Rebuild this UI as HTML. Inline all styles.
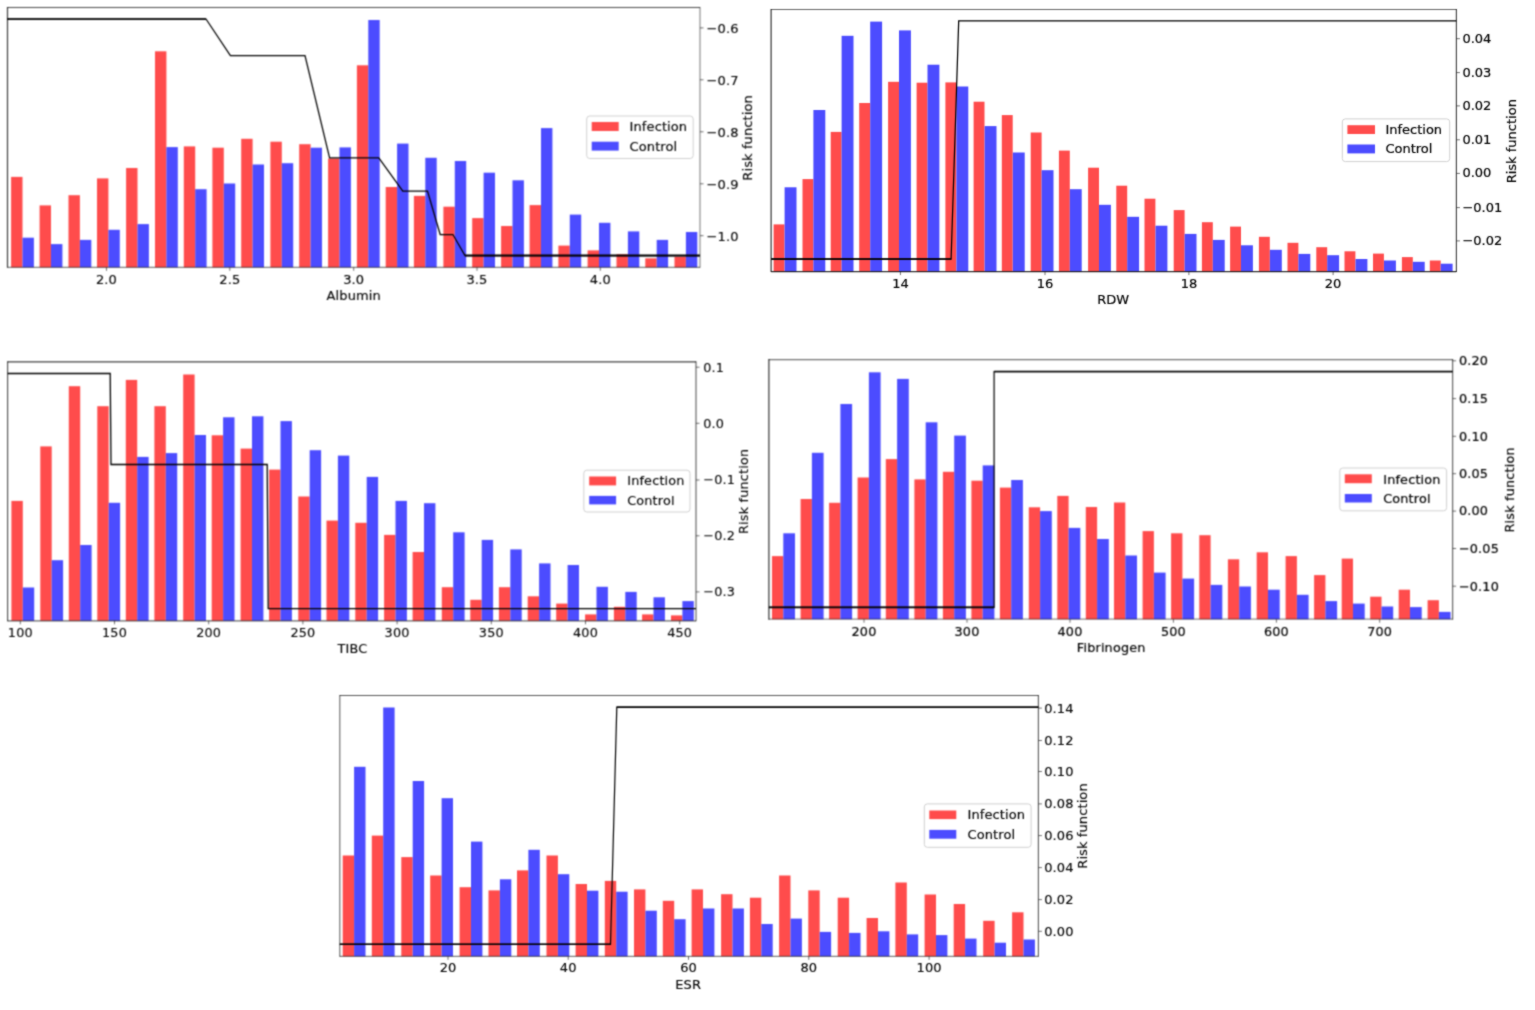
<!DOCTYPE html>
<html lang="en">
<head>
<meta charset="utf-8">
<title>Risk functions</title>
<style>
html,body{margin:0;padding:0;background:#fff;}
body{width:1535px;height:1010px;overflow:hidden;}
svg{display:block;}
text{font-family:"DejaVu Sans","Liberation Sans",sans-serif;font-size:13px;fill:#000;stroke:#000;stroke-width:0.2px;dominant-baseline:central;}
.c1 text{font-size:13px;letter-spacing:0.1px;stroke-width:0.15px;}
.c2 text{font-size:13px;letter-spacing:0px;stroke-width:0.2px;}
.c3 text{font-size:12.8px;letter-spacing:0.18px;stroke-width:0.12px;}
.c4 text{font-size:12.8px;letter-spacing:0.18px;stroke-width:0.2px;}
.c5 text{font-size:13px;letter-spacing:0.1px;stroke-width:0.15px;}
text.m{text-anchor:middle;}
.frame line{stroke:#000;stroke-width:1.2;}
.risk{fill:none;stroke:#000;stroke-linejoin:miter;}
.tick line{stroke:#111;stroke-width:1;stroke-opacity:.6;}
.leg{fill:#fff;fill-opacity:.8;stroke:#d0d0d0;stroke-width:1;}
</style>
</head>
<body>
<svg width="1535" height="1010" viewBox="0 0 1535 1010">
<defs>
<filter id="soft1" x="1.5" y="1.5" width="768.5" height="305.8" filterUnits="userSpaceOnUse" color-interpolation-filters="sRGB"><feFlood flood-color="#fff"/><feComposite in="SourceGraphic" operator="over" result="flat"/><feConvolveMatrix in="flat" order="3" kernelMatrix="1 2 1 2 6 2 1 2 1" divisor="18" edgeMode="duplicate" preserveAlpha="true"/></filter>
<filter id="soft2" x="765.1" y="3.5" width="761.3" height="308.1" filterUnits="userSpaceOnUse" color-interpolation-filters="sRGB"><feFlood flood-color="#fff"/><feComposite in="SourceGraphic" operator="over" result="flat"/><feConvolveMatrix in="flat" order="3" kernelMatrix="1 2 1 2 14 2 1 2 1" divisor="26" edgeMode="duplicate" preserveAlpha="true"/></filter>
<filter id="soft3" x="1.6" y="355.8" width="764.4" height="305" filterUnits="userSpaceOnUse" color-interpolation-filters="sRGB"><feFlood flood-color="#fff"/><feComposite in="SourceGraphic" operator="over" result="flat"/><feConvolveMatrix in="flat" order="3" kernelMatrix="1 2 1 2 6 2 1 2 1" divisor="18" edgeMode="duplicate" preserveAlpha="true"/></filter>
<filter id="soft4" x="762.9" y="353.6" width="759.7" height="305.6" filterUnits="userSpaceOnUse" color-interpolation-filters="sRGB"><feFlood flood-color="#fff"/><feComposite in="SourceGraphic" operator="over" result="flat"/><feConvolveMatrix in="flat" order="3" kernelMatrix="1 2 1 2 6 2 1 2 1" divisor="18" edgeMode="duplicate" preserveAlpha="true"/></filter>
<filter id="soft5" x="333.8" y="689.5" width="774.6" height="306.8" filterUnits="userSpaceOnUse" color-interpolation-filters="sRGB"><feFlood flood-color="#fff"/><feComposite in="SourceGraphic" operator="over" result="flat"/><feConvolveMatrix in="flat" order="3" kernelMatrix="1 2 1 2 8 2 1 2 1" divisor="20" edgeMode="duplicate" preserveAlpha="true"/></filter>
</defs>
<rect width="1535" height="1010" fill="#fff"/>
<g class="chart c1" filter="url(#soft1)">
<g fill="#ff4c4c"><rect x="11.1" y="176.9" width="11.4" height="90.4"/><rect x="39.6" y="205.4" width="11.4" height="61.9"/><rect x="68.5" y="195.2" width="11.4" height="72.1"/><rect x="97" y="178.4" width="11.4" height="88.9"/><rect x="126.1" y="168" width="11.4" height="99.3"/><rect x="155" y="51.3" width="11.4" height="216"/><rect x="183.8" y="146.4" width="11.4" height="120.9"/><rect x="212.4" y="147.7" width="11.4" height="119.6"/><rect x="241.2" y="138.8" width="11.4" height="128.5"/><rect x="270.4" y="141.7" width="11.4" height="125.6"/><rect x="299.2" y="144.2" width="11.4" height="123.1"/><rect x="328.1" y="158.5" width="11.4" height="108.8"/><rect x="356.9" y="65.3" width="11.4" height="202"/><rect x="385.7" y="187" width="11.4" height="80.3"/><rect x="413.9" y="195.9" width="11.4" height="71.4"/><rect x="443.4" y="206.7" width="11.4" height="60.6"/><rect x="472.2" y="218.1" width="11.4" height="49.2"/><rect x="501.1" y="226" width="11.4" height="41.3"/><rect x="529.6" y="205.1" width="11.4" height="62.2"/><rect x="558.4" y="245.6" width="11.4" height="21.7"/><rect x="587.6" y="250.4" width="11.4" height="16.9"/><rect x="616.5" y="254.2" width="11.4" height="13.1"/><rect x="645.3" y="258.3" width="11.4" height="9"/><rect x="674.5" y="256.7" width="11.4" height="10.6"/></g>
<g fill="#4c4cff"><rect x="22.5" y="237.7" width="11.4" height="29.6"/><rect x="51" y="244.1" width="11.4" height="23.2"/><rect x="79.9" y="239.9" width="11.4" height="27.4"/><rect x="108.4" y="229.8" width="11.4" height="37.5"/><rect x="137.5" y="224.1" width="11.4" height="43.2"/><rect x="166.4" y="147.1" width="11.4" height="120.2"/><rect x="195.2" y="189.2" width="11.4" height="78.1"/><rect x="223.8" y="183.5" width="11.4" height="83.8"/><rect x="252.6" y="164.5" width="11.4" height="102.8"/><rect x="281.8" y="163.2" width="11.4" height="104.1"/><rect x="310.6" y="147.7" width="11.4" height="119.6"/><rect x="339.5" y="147.4" width="11.4" height="119.9"/><rect x="368.3" y="20" width="11.4" height="247.3"/><rect x="397.1" y="143.6" width="11.4" height="123.7"/><rect x="425.3" y="157.8" width="11.4" height="109.5"/><rect x="454.8" y="161" width="11.4" height="106.3"/><rect x="483.6" y="172.7" width="11.4" height="94.6"/><rect x="512.5" y="180.3" width="11.4" height="87"/><rect x="541" y="128.1" width="11.4" height="139.2"/><rect x="569.8" y="214.6" width="11.4" height="52.7"/><rect x="599" y="222.8" width="11.4" height="44.5"/><rect x="627.9" y="231.4" width="11.4" height="35.9"/><rect x="656.7" y="239.9" width="11.4" height="27.4"/><rect x="685.9" y="232" width="11.4" height="35.3"/></g>
<polyline class="risk" stroke-width="1.25" points="7,19 206,19 230.4,55.5 305,55.5 329.6,157.8 378.8,157.8 402.8,191.1 427.5,191.1 440.2,234.5 452.9,234.5 465,255.5 700,255.5"/>
<line class="risk" stroke-width="1.5" x1="7" y1="19" x2="206" y2="19"/>
<line class="risk" stroke-width="1.9" x1="465" y1="255.5" x2="700" y2="255.5"/>
<g class="frame"><line x1="7.5" y1="7" x2="7.5" y2="267.8" stroke-opacity="0.75"/><line x1="7.5" y1="7.5" x2="700" y2="7.5" stroke-opacity="0.7"/><line x1="700" y1="7" x2="700" y2="267.8" stroke-opacity="0.45"/><line x1="7.5" y1="267.3" x2="700" y2="267.3" stroke-opacity="0.5"/></g>
<g class="tick"><line x1="700" y1="27.9" x2="703.5" y2="27.9"/><line x1="700" y1="79.8" x2="703.5" y2="79.8"/><line x1="700" y1="131.8" x2="703.5" y2="131.8"/><line x1="700" y1="183.8" x2="703.5" y2="183.8"/><line x1="700" y1="235.7" x2="703.5" y2="235.7"/><line x1="106.5" y1="267.3" x2="106.5" y2="270.8"/><line x1="229.8" y1="267.3" x2="229.8" y2="270.8"/><line x1="353.7" y1="267.3" x2="353.7" y2="270.8"/><line x1="477" y1="267.3" x2="477" y2="270.8"/><line x1="600.3" y1="267.3" x2="600.3" y2="270.8"/></g>
<text class="m" x="106.5" y="279.6">2.0</text>
<text class="m" x="229.8" y="279.6">2.5</text>
<text class="m" x="353.7" y="279.6">3.0</text>
<text class="m" x="477" y="279.6">3.5</text>
<text class="m" x="600.3" y="279.6">4.0</text>
<text x="706.6" y="28.9">−0.6</text>
<text x="706.6" y="80.8">−0.7</text>
<text x="706.6" y="132.8">−0.8</text>
<text x="706.6" y="184.8">−0.9</text>
<text x="706.6" y="236.7">−1.0</text>
<text class="m" x="353.7" y="295.8">Albumin</text>
<text class="m" transform="translate(747 137.9) rotate(-90)">Risk function</text>
<rect class="leg" x="586.7" y="116" width="106.5" height="42.5" rx="3"/>
<rect fill="#ff4c4c" x="591.7" y="122" width="27" height="9"/>
<rect fill="#4c4cff" x="591.7" y="141.7" width="27" height="8.9"/>
<text x="629.6" y="126.8">Infection</text>
<text x="629.6" y="146.4">Control</text>
</g>
<g class="chart c2" filter="url(#soft2)">
<g fill="#ff4c4c"><rect x="773.6" y="224.4" width="10.9" height="47.2"/><rect x="802.5" y="179.1" width="10.9" height="92.5"/><rect x="830.7" y="131.9" width="10.9" height="139.7"/><rect x="859.2" y="103" width="10.9" height="168.6"/><rect x="888.1" y="81.8" width="10.9" height="189.8"/><rect x="916.6" y="82.7" width="10.9" height="188.9"/><rect x="945.4" y="82.4" width="10.9" height="189.2"/><rect x="973.6" y="101.7" width="10.9" height="169.9"/><rect x="1001.8" y="115.1" width="10.9" height="156.5"/><rect x="1030.7" y="132.5" width="10.9" height="139.1"/><rect x="1058.9" y="150.6" width="10.9" height="121"/><rect x="1088.1" y="167.7" width="10.9" height="103.9"/><rect x="1116.3" y="185.7" width="10.9" height="85.9"/><rect x="1144.5" y="198.7" width="10.9" height="72.9"/><rect x="1173.7" y="210.1" width="10.9" height="61.5"/><rect x="1201.9" y="222.2" width="10.9" height="49.4"/><rect x="1230.1" y="226.6" width="10.9" height="45"/><rect x="1258.9" y="236.8" width="10.9" height="34.8"/><rect x="1287.5" y="242.8" width="10.9" height="28.8"/><rect x="1316.3" y="247.2" width="10.9" height="24.4"/><rect x="1344.5" y="251.3" width="10.9" height="20.3"/><rect x="1373" y="253.6" width="10.9" height="18"/><rect x="1401.9" y="257.1" width="10.9" height="14.5"/><rect x="1429.8" y="260.5" width="10.9" height="11.1"/></g>
<g fill="#4c4cff"><rect x="784.6" y="187.3" width="11.9" height="84.3"/><rect x="813.4" y="110" width="11.9" height="161.6"/><rect x="841.6" y="35.8" width="11.9" height="235.8"/><rect x="870.2" y="21.6" width="11.9" height="250"/><rect x="899" y="30.4" width="11.9" height="241.2"/><rect x="927.5" y="64.7" width="11.9" height="206.9"/><rect x="956.4" y="86.5" width="11.9" height="185.1"/><rect x="984.6" y="126.1" width="11.9" height="145.5"/><rect x="1012.8" y="152.5" width="11.9" height="119.1"/><rect x="1041.6" y="170.2" width="11.9" height="101.4"/><rect x="1069.8" y="189.2" width="11.9" height="82.4"/><rect x="1099" y="204.8" width="11.9" height="66.8"/><rect x="1127.2" y="216.8" width="11.9" height="54.8"/><rect x="1155.5" y="225.7" width="11.9" height="45.9"/><rect x="1184.6" y="233.9" width="11.9" height="37.7"/><rect x="1212.8" y="239.9" width="11.9" height="31.7"/><rect x="1241" y="245.3" width="11.9" height="26.3"/><rect x="1269.9" y="249.8" width="11.9" height="21.8"/><rect x="1298.4" y="253.9" width="11.9" height="17.7"/><rect x="1327.2" y="255.2" width="11.9" height="16.4"/><rect x="1355.5" y="259" width="11.9" height="12.6"/><rect x="1384" y="260.5" width="11.9" height="11.1"/><rect x="1412.8" y="261.8" width="11.9" height="9.8"/><rect x="1440.7" y="263.7" width="11.9" height="7.9"/></g>
<polyline class="risk" stroke-width="1.25" points="771.1,259 951.1,259 958.7,20.9 1456.4,20.9"/>
<line class="risk" stroke-width="1.45" x1="771.1" y1="259" x2="951.1" y2="259"/>
<g class="frame"><line x1="771.1" y1="9" x2="771.1" y2="272.1" stroke-opacity="0.8"/><line x1="771.1" y1="9.5" x2="1456.4" y2="9.5" stroke-opacity="0.6"/><line x1="1456.4" y1="9" x2="1456.4" y2="272.1" stroke-opacity="0.7"/><line x1="771.1" y1="271.6" x2="1456.4" y2="271.6" stroke-opacity="0.8"/></g>
<g class="tick"><line x1="1456.4" y1="38.7" x2="1459.9" y2="38.7"/><line x1="1456.4" y1="72.6" x2="1459.9" y2="72.6"/><line x1="1456.4" y1="105.9" x2="1459.9" y2="105.9"/><line x1="1456.4" y1="139.8" x2="1459.9" y2="139.8"/><line x1="1456.4" y1="173.4" x2="1459.9" y2="173.4"/><line x1="1456.4" y1="207.6" x2="1459.9" y2="207.6"/><line x1="1456.4" y1="240.9" x2="1459.9" y2="240.9"/><line x1="900.4" y1="271.6" x2="900.4" y2="275.1"/><line x1="1045" y1="271.6" x2="1045" y2="275.1"/><line x1="1188.9" y1="271.6" x2="1188.9" y2="275.1"/><line x1="1333.1" y1="271.6" x2="1333.1" y2="275.1"/></g>
<text class="m" x="900.4" y="283">14</text>
<text class="m" x="1045" y="283">16</text>
<text class="m" x="1188.9" y="283">18</text>
<text class="m" x="1333.1" y="283">20</text>
<text x="1462.4" y="38.2">0.04</text>
<text x="1462.4" y="72.1">0.03</text>
<text x="1462.4" y="105.4">0.02</text>
<text x="1462.4" y="139.3">0.01</text>
<text x="1462.4" y="172.9">0.00</text>
<text x="1462.4" y="207.1">−0.01</text>
<text x="1462.4" y="240.4">−0.02</text>
<text class="m" x="1113.1" y="299.5">RDW</text>
<text class="m" transform="translate(1511.2 141.2) rotate(-90)">Risk function</text>
<rect class="leg" x="1342.3" y="118.9" width="107.4" height="42.7" rx="3"/>
<rect fill="#ff4c4c" x="1347.4" y="125.2" width="27.6" height="8.8"/>
<rect fill="#4c4cff" x="1347.4" y="144.5" width="27.6" height="8.9"/>
<text x="1385.4" y="129.3">Infection</text>
<text x="1385.4" y="148.3">Control</text>
</g>
<g class="chart c3" filter="url(#soft3)">
<g fill="#ff4c4c"><rect x="11.4" y="500.9" width="11.4" height="119.9"/><rect x="40.3" y="446.4" width="11.4" height="174.4"/><rect x="68.8" y="386.2" width="11.4" height="234.6"/><rect x="97.3" y="406.2" width="11.4" height="214.6"/><rect x="125.8" y="379.9" width="11.4" height="240.9"/><rect x="154.4" y="406.2" width="11.4" height="214.6"/><rect x="183.2" y="374.5" width="11.4" height="246.3"/><rect x="211.7" y="435.3" width="11.4" height="185.5"/><rect x="240.6" y="448.6" width="11.4" height="172.2"/><rect x="269.1" y="469.6" width="11.4" height="151.2"/><rect x="298.3" y="496.5" width="11.4" height="124.3"/><rect x="326.5" y="520.6" width="11.4" height="100.2"/><rect x="355.3" y="522.8" width="11.4" height="98"/><rect x="384.1" y="534.9" width="11.4" height="85.9"/><rect x="412.6" y="552" width="11.4" height="68.8"/><rect x="441.8" y="587.2" width="11.4" height="33.6"/><rect x="470.3" y="599.8" width="11.4" height="21"/><rect x="498.9" y="587.2" width="11.4" height="33.6"/><rect x="527.7" y="596.3" width="11.4" height="24.5"/><rect x="556.2" y="603.6" width="11.4" height="17.2"/><rect x="585.1" y="614.4" width="11.4" height="6.4"/><rect x="613.9" y="606.8" width="11.4" height="14"/><rect x="642.1" y="614.4" width="11.4" height="6.4"/><rect x="671" y="615.4" width="11.4" height="5.4"/></g>
<g fill="#4c4cff"><rect x="22.8" y="587.5" width="11.4" height="33.3"/><rect x="51.7" y="560.2" width="11.4" height="60.6"/><rect x="80.2" y="545" width="11.4" height="75.8"/><rect x="108.7" y="502.8" width="11.4" height="118"/><rect x="137.2" y="456.9" width="11.4" height="163.9"/><rect x="165.8" y="453.1" width="11.4" height="167.7"/><rect x="194.6" y="435" width="11.4" height="185.8"/><rect x="223.1" y="417.3" width="11.4" height="203.5"/><rect x="252" y="416.3" width="11.4" height="204.5"/><rect x="280.5" y="421.1" width="11.4" height="199.7"/><rect x="309.7" y="450.2" width="11.4" height="170.6"/><rect x="337.9" y="455.6" width="11.4" height="165.2"/><rect x="366.7" y="476.9" width="11.4" height="143.9"/><rect x="395.5" y="500.9" width="11.4" height="119.9"/><rect x="424" y="503.2" width="11.4" height="117.6"/><rect x="453.2" y="532.3" width="11.4" height="88.5"/><rect x="481.7" y="539.9" width="11.4" height="80.9"/><rect x="510.3" y="549.4" width="11.4" height="71.4"/><rect x="539.1" y="563.4" width="11.4" height="57.4"/><rect x="567.6" y="565" width="11.4" height="55.8"/><rect x="596.5" y="586.8" width="11.4" height="34"/><rect x="625.3" y="591.9" width="11.4" height="28.9"/><rect x="653.5" y="597.3" width="11.4" height="23.5"/><rect x="682.4" y="601.1" width="11.4" height="19.7"/></g>
<polyline class="risk" stroke-width="1.3" points="7.6,373.5 110.2,373.5 111,464.5 267.2,464.5 268.2,608.7 696,608.7"/>
<g class="frame"><line x1="7.6" y1="361.3" x2="7.6" y2="621.3" stroke-opacity="0.65"/><line x1="7.6" y1="361.8" x2="696" y2="361.8" stroke-opacity="0.75"/><line x1="696" y1="361.3" x2="696" y2="621.3" stroke-opacity="0.6"/><line x1="7.6" y1="620.8" x2="696" y2="620.8" stroke-opacity="0.6"/></g>
<g class="tick"><line x1="696" y1="367.2" x2="699.5" y2="367.2"/><line x1="696" y1="423.3" x2="699.5" y2="423.3"/><line x1="696" y1="480" x2="699.5" y2="480"/><line x1="696" y1="535.8" x2="699.5" y2="535.8"/><line x1="696" y1="591.9" x2="699.5" y2="591.9"/><line x1="20.3" y1="620.8" x2="20.3" y2="624.3"/><line x1="114.5" y1="620.8" x2="114.5" y2="624.3"/><line x1="208.7" y1="620.8" x2="208.7" y2="624.3"/><line x1="302.9" y1="620.8" x2="302.9" y2="624.3"/><line x1="397.1" y1="620.8" x2="397.1" y2="624.3"/><line x1="491.3" y1="620.8" x2="491.3" y2="624.3"/><line x1="585.5" y1="620.8" x2="585.5" y2="624.3"/><line x1="679.7" y1="620.8" x2="679.7" y2="624.3"/></g>
<text class="m" x="20.3" y="632.8">100</text>
<text class="m" x="114.5" y="632.8">150</text>
<text class="m" x="208.7" y="632.8">200</text>
<text class="m" x="302.9" y="632.8">250</text>
<text class="m" x="397.1" y="632.8">300</text>
<text class="m" x="491.3" y="632.8">350</text>
<text class="m" x="585.5" y="632.8">400</text>
<text class="m" x="679.7" y="632.8">450</text>
<text x="703.3" y="367">0.1</text>
<text x="703.3" y="423.1">0.0</text>
<text x="703.3" y="479.8">−0.1</text>
<text x="703.3" y="535.6">−0.2</text>
<text x="703.3" y="591.7">−0.3</text>
<text class="m" x="352.5" y="648.3">TIBC</text>
<text class="m" transform="translate(743.9 491.4) rotate(-90)">Risk function</text>
<rect class="leg" x="583.8" y="470.2" width="106.2" height="41.8" rx="3"/>
<rect fill="#ff4c4c" x="589.2" y="476.5" width="26.9" height="8.9"/>
<rect fill="#4c4cff" x="589.2" y="495.9" width="26.9" height="8.5"/>
<text x="627.2" y="480.7">Infection</text>
<text x="627.2" y="500.3">Control</text>
</g>
<g class="chart c4" filter="url(#soft4)">
<g fill="#ff4c4c"><rect x="772" y="556.1" width="11.3" height="63.1"/><rect x="800.6" y="499" width="11.3" height="120.2"/><rect x="829.1" y="502.8" width="11.3" height="116.4"/><rect x="857.6" y="477.5" width="11.3" height="141.7"/><rect x="885.8" y="459.1" width="11.3" height="160.1"/><rect x="914.4" y="479.4" width="11.3" height="139.8"/><rect x="942.9" y="471.8" width="11.3" height="147.4"/><rect x="971.4" y="480.7" width="11.3" height="138.5"/><rect x="999.9" y="487.6" width="11.3" height="131.6"/><rect x="1028.8" y="507.3" width="11.3" height="111.9"/><rect x="1057.3" y="495.9" width="11.3" height="123.3"/><rect x="1085.8" y="507" width="11.3" height="112.2"/><rect x="1114" y="502.5" width="11.3" height="116.7"/><rect x="1142.6" y="531.1" width="11.3" height="88.1"/><rect x="1171.1" y="533.3" width="11.3" height="85.9"/><rect x="1199.3" y="535.2" width="11.3" height="84"/><rect x="1227.9" y="559.3" width="11.3" height="59.9"/><rect x="1256.7" y="552.3" width="11.3" height="66.9"/><rect x="1285.6" y="556.1" width="11.3" height="63.1"/><rect x="1314.1" y="575.1" width="11.3" height="44.1"/><rect x="1341.7" y="558.6" width="11.3" height="60.6"/><rect x="1370.2" y="596.7" width="11.3" height="22.5"/><rect x="1398.7" y="589.7" width="11.3" height="29.5"/><rect x="1427.6" y="600.2" width="11.3" height="19"/></g>
<g fill="#4c4cff"><rect x="783.3" y="533.3" width="11.7" height="85.9"/><rect x="811.9" y="452.8" width="11.7" height="166.4"/><rect x="840.4" y="404" width="11.7" height="215.2"/><rect x="868.9" y="372.3" width="11.7" height="246.9"/><rect x="897.1" y="378.9" width="11.7" height="240.3"/><rect x="925.7" y="422.3" width="11.7" height="196.9"/><rect x="954.2" y="435.6" width="11.7" height="183.6"/><rect x="982.7" y="465.4" width="11.7" height="153.8"/><rect x="1011.2" y="480" width="11.7" height="139.2"/><rect x="1040.1" y="511.1" width="11.7" height="108.1"/><rect x="1068.6" y="527.9" width="11.7" height="91.3"/><rect x="1097.1" y="539" width="11.7" height="80.2"/><rect x="1125.3" y="555.5" width="11.7" height="63.7"/><rect x="1153.9" y="572.6" width="11.7" height="46.6"/><rect x="1182.4" y="578.6" width="11.7" height="40.6"/><rect x="1210.6" y="584.9" width="11.7" height="34.3"/><rect x="1239.2" y="586.5" width="11.7" height="32.7"/><rect x="1268" y="589.7" width="11.7" height="29.5"/><rect x="1296.9" y="594.8" width="11.7" height="24.4"/><rect x="1325.4" y="601.1" width="11.7" height="18.1"/><rect x="1353" y="603.6" width="11.7" height="15.6"/><rect x="1381.5" y="606.5" width="11.7" height="12.7"/><rect x="1410" y="607.1" width="11.7" height="12.1"/><rect x="1438.9" y="611.9" width="11.7" height="7.3"/></g>
<polyline class="risk" stroke-width="1.2" points="768.9,607.4 994.1,607.4 994.1,371.6 1452.6,371.6"/>
<line class="risk" stroke-width="1.7" x1="768.9" y1="607.4" x2="994.1" y2="607.4"/>
<line class="risk" stroke-width="1.5" x1="994.1" y1="371.6" x2="1452.6" y2="371.6"/>
<g class="frame"><line x1="768.9" y1="359.1" x2="768.9" y2="619.7" stroke-opacity="0.8"/><line x1="768.9" y1="359.6" x2="1452.6" y2="359.6" stroke-opacity="0.55"/><line x1="1452.6" y1="359.1" x2="1452.6" y2="619.7" stroke-opacity="0.6"/><line x1="768.9" y1="619.2" x2="1452.6" y2="619.2" stroke-opacity="0.45"/></g>
<g class="tick"><line x1="1452.6" y1="360.8" x2="1456.1" y2="360.8"/><line x1="1452.6" y1="398.6" x2="1456.1" y2="398.6"/><line x1="1452.6" y1="436.3" x2="1456.1" y2="436.3"/><line x1="1452.6" y1="473.7" x2="1456.1" y2="473.7"/><line x1="1452.6" y1="511.1" x2="1456.1" y2="511.1"/><line x1="1452.6" y1="548.5" x2="1456.1" y2="548.5"/><line x1="1452.6" y1="586.2" x2="1456.1" y2="586.2"/><line x1="864" y1="619.2" x2="864" y2="622.7"/><line x1="967" y1="619.2" x2="967" y2="622.7"/><line x1="1070" y1="619.2" x2="1070" y2="622.7"/><line x1="1173.4" y1="619.2" x2="1173.4" y2="622.7"/><line x1="1276.4" y1="619.2" x2="1276.4" y2="622.7"/><line x1="1379.7" y1="619.2" x2="1379.7" y2="622.7"/></g>
<text class="m" x="864" y="631.8">200</text>
<text class="m" x="967" y="631.8">300</text>
<text class="m" x="1070" y="631.8">400</text>
<text class="m" x="1173.4" y="631.8">500</text>
<text class="m" x="1276.4" y="631.8">600</text>
<text class="m" x="1379.7" y="631.8">700</text>
<text x="1458.9" y="360.6">0.20</text>
<text x="1458.9" y="398.4">0.15</text>
<text x="1458.9" y="436.1">0.10</text>
<text x="1458.9" y="473.5">0.05</text>
<text x="1458.9" y="510.9">0.00</text>
<text x="1458.9" y="548.3">−0.05</text>
<text x="1458.9" y="586">−0.10</text>
<text class="m" x="1111.2" y="647.7">Fibrinogen</text>
<text class="m" transform="translate(1509 489.9) rotate(-90)">Risk function</text>
<rect class="leg" x="1339.8" y="468" width="106.8" height="42.8" rx="3"/>
<rect fill="#ff4c4c" x="1344.8" y="474.3" width="27" height="8.9"/>
<rect fill="#4c4cff" x="1344.8" y="494" width="27" height="8.5"/>
<text x="1383.2" y="479.1">Infection</text>
<text x="1383.2" y="498.7">Control</text>
</g>
<g class="chart c5" filter="url(#soft5)">
<g fill="#ff4c4c"><rect x="342.7" y="855.5" width="11.4" height="100.8"/><rect x="371.8" y="835.6" width="11.4" height="120.7"/><rect x="401.3" y="857.1" width="11.4" height="99.2"/><rect x="430.2" y="875.5" width="11.4" height="80.8"/><rect x="459.6" y="887.2" width="11.4" height="69.1"/><rect x="488.5" y="890.4" width="11.4" height="65.9"/><rect x="517" y="870.4" width="11.4" height="85.9"/><rect x="546.5" y="855.5" width="11.4" height="100.8"/><rect x="575.6" y="884" width="11.4" height="72.3"/><rect x="604.8" y="880.9" width="11.4" height="75.4"/><rect x="634" y="889.4" width="11.4" height="66.9"/><rect x="662.8" y="900.8" width="11.4" height="55.5"/><rect x="691.6" y="889.4" width="11.4" height="66.9"/><rect x="721.1" y="894.2" width="11.4" height="62.1"/><rect x="749.9" y="897.7" width="11.4" height="58.6"/><rect x="779.1" y="875.5" width="11.4" height="80.8"/><rect x="808.3" y="890.4" width="11.4" height="65.9"/><rect x="837.7" y="897.7" width="11.4" height="58.6"/><rect x="866.6" y="918" width="11.4" height="38.3"/><rect x="895.4" y="882.5" width="11.4" height="73.8"/><rect x="924.6" y="894.5" width="11.4" height="61.8"/><rect x="953.7" y="904" width="11.4" height="52.3"/><rect x="983.2" y="920.8" width="11.4" height="35.5"/><rect x="1012.1" y="912.3" width="11.4" height="44"/></g>
<g fill="#4c4cff"><rect x="354.1" y="766.8" width="11.4" height="189.5"/><rect x="383.2" y="707.5" width="11.4" height="248.8"/><rect x="412.7" y="781" width="11.4" height="175.3"/><rect x="441.6" y="798.2" width="11.4" height="158.1"/><rect x="471" y="841.6" width="11.4" height="114.7"/><rect x="499.9" y="879.3" width="11.4" height="77"/><rect x="528.4" y="849.8" width="11.4" height="106.5"/><rect x="557.9" y="874.2" width="11.4" height="82.1"/><rect x="587" y="890.7" width="11.4" height="65.6"/><rect x="616.2" y="891.7" width="11.4" height="64.6"/><rect x="645.4" y="910.7" width="11.4" height="45.6"/><rect x="674.2" y="919.2" width="11.4" height="37.1"/><rect x="703" y="908.5" width="11.4" height="47.8"/><rect x="732.5" y="908.5" width="11.4" height="47.8"/><rect x="761.3" y="924" width="11.4" height="32.3"/><rect x="790.5" y="918.6" width="11.4" height="37.7"/><rect x="819.7" y="931.9" width="11.4" height="24.4"/><rect x="849.1" y="932.9" width="11.4" height="23.4"/><rect x="878" y="931.3" width="11.4" height="25"/><rect x="906.8" y="934.4" width="11.4" height="21.9"/><rect x="936" y="935.1" width="11.4" height="21.2"/><rect x="965.1" y="938.6" width="11.4" height="17.7"/><rect x="994.6" y="942.7" width="11.4" height="13.6"/><rect x="1023.5" y="939.5" width="11.4" height="16.8"/></g>
<polyline class="risk" stroke-width="1.2" points="339.8,944.3 610.5,944.3 616.8,707.2 1038.4,707.2"/>
<line class="risk" stroke-width="1.5" x1="339.8" y1="944.3" x2="610.5" y2="944.3"/>
<line class="risk" stroke-width="1.4" x1="616.8" y1="707.2" x2="1038.4" y2="707.2"/>
<g class="frame"><line x1="339.8" y1="695" x2="339.8" y2="956.8" stroke-opacity="0.55"/><line x1="339.8" y1="695.5" x2="1038.4" y2="695.5" stroke-opacity="0.65"/><line x1="1038.4" y1="695" x2="1038.4" y2="956.8" stroke-opacity="0.6"/><line x1="339.8" y1="956.3" x2="1038.4" y2="956.3" stroke-opacity="0.5"/></g>
<g class="tick"><line x1="1038.4" y1="708.1" x2="1041.9" y2="708.1"/><line x1="1038.4" y1="740.5" x2="1041.9" y2="740.5"/><line x1="1038.4" y1="771.5" x2="1041.9" y2="771.5"/><line x1="1038.4" y1="803.9" x2="1041.9" y2="803.9"/><line x1="1038.4" y1="835.6" x2="1041.9" y2="835.6"/><line x1="1038.4" y1="867.6" x2="1041.9" y2="867.6"/><line x1="1038.4" y1="899.6" x2="1041.9" y2="899.6"/><line x1="1038.4" y1="931.3" x2="1041.9" y2="931.3"/><line x1="448" y1="956.3" x2="448" y2="959.8"/><line x1="568.2" y1="956.3" x2="568.2" y2="959.8"/><line x1="688.5" y1="956.3" x2="688.5" y2="959.8"/><line x1="808.8" y1="956.3" x2="808.8" y2="959.8"/><line x1="929.1" y1="956.3" x2="929.1" y2="959.8"/></g>
<text class="m" x="448" y="967.3">20</text>
<text class="m" x="568.2" y="967.3">40</text>
<text class="m" x="688.5" y="967.3">60</text>
<text class="m" x="808.8" y="967.3">80</text>
<text class="m" x="929.1" y="967.3">100</text>
<text x="1044.2" y="708.1">0.14</text>
<text x="1044.2" y="740.5">0.12</text>
<text x="1044.2" y="771.5">0.10</text>
<text x="1044.2" y="803.9">0.08</text>
<text x="1044.2" y="835.6">0.06</text>
<text x="1044.2" y="867.6">0.04</text>
<text x="1044.2" y="899.6">0.02</text>
<text x="1044.2" y="931.3">0.00</text>
<text class="m" x="688.2" y="984.2">ESR</text>
<text class="m" transform="translate(1082.4 826) rotate(-90)">Risk function</text>
<rect class="leg" x="924.3" y="803.9" width="106.8" height="43.4" rx="3"/>
<rect fill="#ff4c4c" x="929.3" y="810.5" width="27" height="8.6"/>
<rect fill="#4c4cff" x="929.3" y="829.9" width="27" height="8.8"/>
<text x="967.5" y="814.8">Infection</text>
<text x="967.5" y="834.1">Control</text>
</g>
</svg>
</body>
</html>
